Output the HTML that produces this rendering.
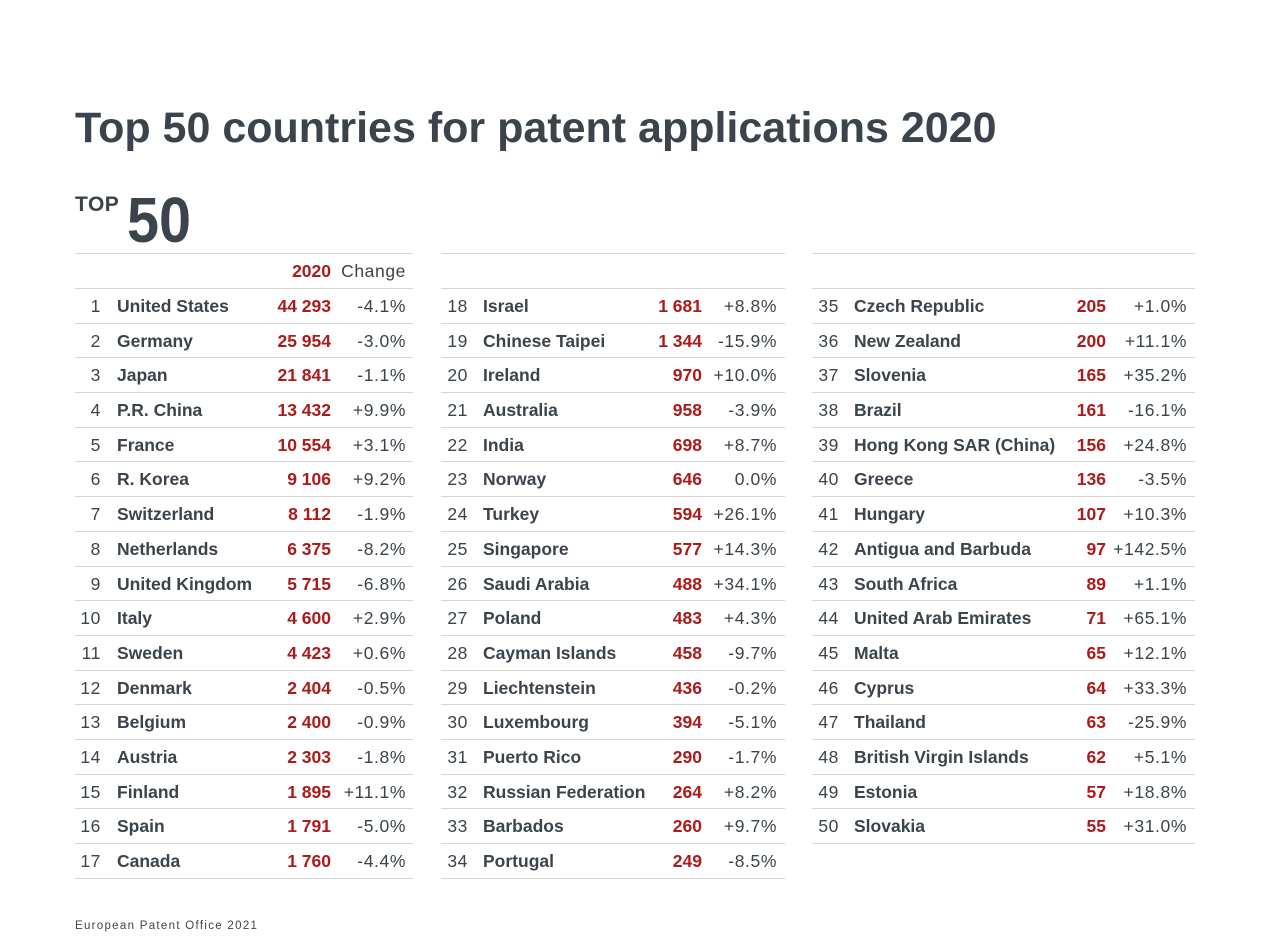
<!DOCTYPE html>
<html><head><meta charset="utf-8"><style>
body{margin:0;width:1269px;height:952px;background:#fff;position:relative;font-family:"Liberation Sans",Arial,sans-serif;color:#3b444c;overflow:hidden}
h1{position:absolute;left:75px;top:104px;margin:0;font-size:43px;font-weight:bold;white-space:nowrap}
.top{position:absolute;left:75px;top:193px;font-size:21px;font-weight:bold;letter-spacing:0.5px}
.fifty{position:absolute;left:127px;top:183px;font-size:64px;font-weight:bold;transform:scaleX(0.9);transform-origin:left}
.col{position:absolute;top:253px;border-top:1px solid #d6d6d6}
.r{position:relative;height:34.7px;border-bottom:1px solid #d6d6d6;font-size:17.5px;line-height:34.7px;box-sizing:border-box}
.r span{position:absolute;top:0;white-space:nowrap}
.n,.c{letter-spacing:0.6px}
.nm{font-weight:bold}
.v{font-weight:bold;color:#ad1a1a}
.h{height:35px}
.foot{position:absolute;left:75px;top:920px;font-size:11.5px;letter-spacing:1.3px}
#c1{left:75px;width:338px}#c1 .n{right:312px}#c1 .nm{left:42px}#c1 .v{right:82px}#c1 .c{right:7px}
#c2{left:441px;width:344px}#c2 .n{right:317px}#c2 .nm{left:42px}#c2 .v{right:83px}#c2 .c{right:8px}
#c3{left:812px;width:383px}#c3 .n{right:356px}#c3 .nm{left:42px}#c3 .v{right:89px}#c3 .c{right:8px}
</style></head><body>
<h1>Top 50 countries for patent applications 2020</h1>
<div class="top">TOP</div><div class="fifty">50</div>
<div class="col" id="c1">
<div class="r h"><span class="v">2020</span><span class="c">Change</span></div>
<div class="r"><span class="n">1</span><span class="nm">United States</span><span class="v">44 293</span><span class="c">-4.1%</span></div>
<div class="r"><span class="n">2</span><span class="nm">Germany</span><span class="v">25 954</span><span class="c">-3.0%</span></div>
<div class="r"><span class="n">3</span><span class="nm">Japan</span><span class="v">21 841</span><span class="c">-1.1%</span></div>
<div class="r"><span class="n">4</span><span class="nm">P.R. China</span><span class="v">13 432</span><span class="c">+9.9%</span></div>
<div class="r"><span class="n">5</span><span class="nm">France</span><span class="v">10 554</span><span class="c">+3.1%</span></div>
<div class="r"><span class="n">6</span><span class="nm">R. Korea</span><span class="v">9 106</span><span class="c">+9.2%</span></div>
<div class="r"><span class="n">7</span><span class="nm">Switzerland</span><span class="v">8 112</span><span class="c">-1.9%</span></div>
<div class="r"><span class="n">8</span><span class="nm">Netherlands</span><span class="v">6 375</span><span class="c">-8.2%</span></div>
<div class="r"><span class="n">9</span><span class="nm">United Kingdom</span><span class="v">5 715</span><span class="c">-6.8%</span></div>
<div class="r"><span class="n">10</span><span class="nm">Italy</span><span class="v">4 600</span><span class="c">+2.9%</span></div>
<div class="r"><span class="n">11</span><span class="nm">Sweden</span><span class="v">4 423</span><span class="c">+0.6%</span></div>
<div class="r"><span class="n">12</span><span class="nm">Denmark</span><span class="v">2 404</span><span class="c">-0.5%</span></div>
<div class="r"><span class="n">13</span><span class="nm">Belgium</span><span class="v">2 400</span><span class="c">-0.9%</span></div>
<div class="r"><span class="n">14</span><span class="nm">Austria</span><span class="v">2 303</span><span class="c">-1.8%</span></div>
<div class="r"><span class="n">15</span><span class="nm">Finland</span><span class="v">1 895</span><span class="c">+11.1%</span></div>
<div class="r"><span class="n">16</span><span class="nm">Spain</span><span class="v">1 791</span><span class="c">-5.0%</span></div>
<div class="r"><span class="n">17</span><span class="nm">Canada</span><span class="v">1 760</span><span class="c">-4.4%</span></div>
</div>
<div class="col" id="c2">
<div class="r h"></div>
<div class="r"><span class="n">18</span><span class="nm">Israel</span><span class="v">1 681</span><span class="c">+8.8%</span></div>
<div class="r"><span class="n">19</span><span class="nm">Chinese Taipei</span><span class="v">1 344</span><span class="c">-15.9%</span></div>
<div class="r"><span class="n">20</span><span class="nm">Ireland</span><span class="v">970</span><span class="c">+10.0%</span></div>
<div class="r"><span class="n">21</span><span class="nm">Australia</span><span class="v">958</span><span class="c">-3.9%</span></div>
<div class="r"><span class="n">22</span><span class="nm">India</span><span class="v">698</span><span class="c">+8.7%</span></div>
<div class="r"><span class="n">23</span><span class="nm">Norway</span><span class="v">646</span><span class="c">0.0%</span></div>
<div class="r"><span class="n">24</span><span class="nm">Turkey</span><span class="v">594</span><span class="c">+26.1%</span></div>
<div class="r"><span class="n">25</span><span class="nm">Singapore</span><span class="v">577</span><span class="c">+14.3%</span></div>
<div class="r"><span class="n">26</span><span class="nm">Saudi Arabia</span><span class="v">488</span><span class="c">+34.1%</span></div>
<div class="r"><span class="n">27</span><span class="nm">Poland</span><span class="v">483</span><span class="c">+4.3%</span></div>
<div class="r"><span class="n">28</span><span class="nm">Cayman Islands</span><span class="v">458</span><span class="c">-9.7%</span></div>
<div class="r"><span class="n">29</span><span class="nm">Liechtenstein</span><span class="v">436</span><span class="c">-0.2%</span></div>
<div class="r"><span class="n">30</span><span class="nm">Luxembourg</span><span class="v">394</span><span class="c">-5.1%</span></div>
<div class="r"><span class="n">31</span><span class="nm">Puerto Rico</span><span class="v">290</span><span class="c">-1.7%</span></div>
<div class="r"><span class="n">32</span><span class="nm">Russian Federation</span><span class="v">264</span><span class="c">+8.2%</span></div>
<div class="r"><span class="n">33</span><span class="nm">Barbados</span><span class="v">260</span><span class="c">+9.7%</span></div>
<div class="r"><span class="n">34</span><span class="nm">Portugal</span><span class="v">249</span><span class="c">-8.5%</span></div>
</div>
<div class="col" id="c3">
<div class="r h"></div>
<div class="r"><span class="n">35</span><span class="nm">Czech Republic</span><span class="v">205</span><span class="c">+1.0%</span></div>
<div class="r"><span class="n">36</span><span class="nm">New Zealand</span><span class="v">200</span><span class="c">+11.1%</span></div>
<div class="r"><span class="n">37</span><span class="nm">Slovenia</span><span class="v">165</span><span class="c">+35.2%</span></div>
<div class="r"><span class="n">38</span><span class="nm">Brazil</span><span class="v">161</span><span class="c">-16.1%</span></div>
<div class="r"><span class="n">39</span><span class="nm">Hong Kong SAR (China)</span><span class="v">156</span><span class="c">+24.8%</span></div>
<div class="r"><span class="n">40</span><span class="nm">Greece</span><span class="v">136</span><span class="c">-3.5%</span></div>
<div class="r"><span class="n">41</span><span class="nm">Hungary</span><span class="v">107</span><span class="c">+10.3%</span></div>
<div class="r"><span class="n">42</span><span class="nm">Antigua and Barbuda</span><span class="v">97</span><span class="c">+142.5%</span></div>
<div class="r"><span class="n">43</span><span class="nm">South Africa</span><span class="v">89</span><span class="c">+1.1%</span></div>
<div class="r"><span class="n">44</span><span class="nm">United Arab Emirates</span><span class="v">71</span><span class="c">+65.1%</span></div>
<div class="r"><span class="n">45</span><span class="nm">Malta</span><span class="v">65</span><span class="c">+12.1%</span></div>
<div class="r"><span class="n">46</span><span class="nm">Cyprus</span><span class="v">64</span><span class="c">+33.3%</span></div>
<div class="r"><span class="n">47</span><span class="nm">Thailand</span><span class="v">63</span><span class="c">-25.9%</span></div>
<div class="r"><span class="n">48</span><span class="nm">British Virgin Islands</span><span class="v">62</span><span class="c">+5.1%</span></div>
<div class="r"><span class="n">49</span><span class="nm">Estonia</span><span class="v">57</span><span class="c">+18.8%</span></div>
<div class="r"><span class="n">50</span><span class="nm">Slovakia</span><span class="v">55</span><span class="c">+31.0%</span></div>
</div>
<div class="foot">European Patent Office 2021</div>
</body></html>
